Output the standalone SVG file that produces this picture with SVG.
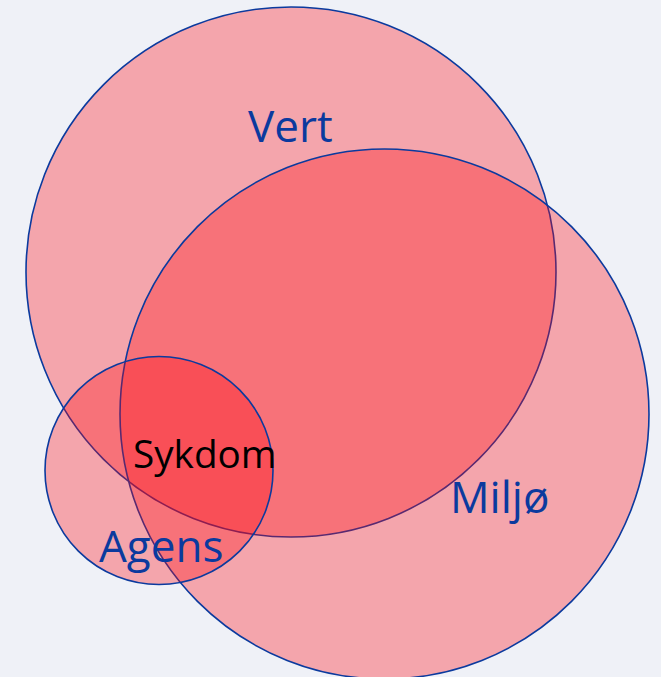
<svg xmlns="http://www.w3.org/2000/svg" width="661" height="677" viewBox="0 0 661 677">
<style>
.set{fill:rgb(255,7,16);fill-opacity:0.32;stroke:#0b3a9e;stroke-width:1.6}
.lbl{font-family:"Open Sans","Noto Sans","DejaVu Sans",sans-serif;font-size:44px;fill:#0b3a9e}
.mid{font-family:"Open Sans","Noto Sans","DejaVu Sans",sans-serif;font-size:38.7px;fill:#000}
</style>
<rect width="661" height="677" fill="#eff1f7"/>
<g id="vert"><circle class="set" cx="291" cy="272" r="265"/></g>
<g id="miljo"><ellipse class="set" cx="384.5" cy="414" rx="264.5" ry="265"/></g>
<g id="agens"><circle class="set" cx="159" cy="470.5" r="114"/></g>
<g id="labels">
<text class="lbl" x="248" y="142">Vert</text>
<text class="lbl" x="450" y="513">Miljø</text>
<text class="lbl" x="99" y="562">Agens</text>
<text class="mid" x="133" y="468">Sykdom</text>
</g>
</svg>
